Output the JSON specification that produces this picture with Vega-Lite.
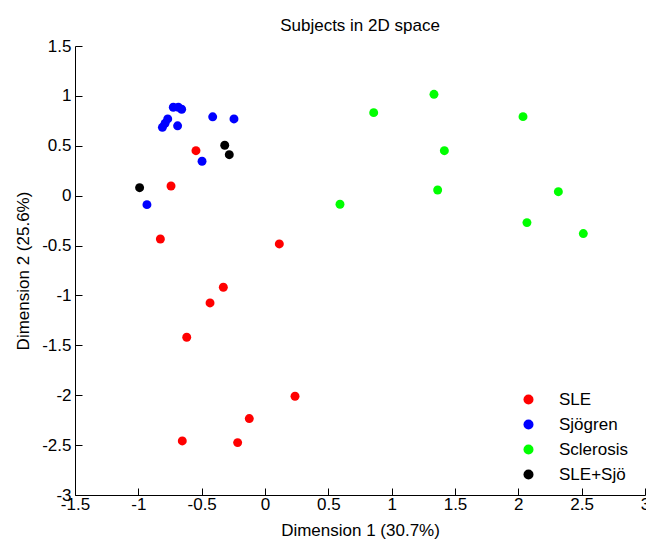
{
  "$schema": "https://vega.github.io/schema/vega-lite/v6.json",
  "autosize": "none",
  "padding": {"left": 75, "top": 46, "right": 1, "bottom": 46},
  "width": 570,
  "height": 449,
  "config": {
    "font": "Liberation Sans",
    "view": {"stroke": null},
    "axis": {
      "grid": false,
      "domainColor": "#000000",
      "tickColor": "#000000",
      "labelColor": "#000000",
      "titleColor": "#000000",
      "labelFontSize": 17,
      "titleFontSize": 17,
      "titleFontWeight": "normal",
      "tickSize": -7,
      "labelFont": "Liberation Sans",
      "titleFont": "Liberation Sans"
    }
  },
  "title": {
    "text": "Subjects in 2D space",
    "fontSize": 17,
    "fontWeight": "normal",
    "color": "#000000",
    "offset": 2,
    "font": "Liberation Sans"
  },
  "data": {
    "values": [
      {"x": -0.545, "y": 0.451, "group": "SLE"},
      {"x": -0.742, "y": 0.097, "group": "SLE"},
      {"x": -0.826, "y": -0.434, "group": "SLE"},
      {"x": 0.113, "y": -0.484, "group": "SLE"},
      {"x": -0.329, "y": -0.918, "group": "SLE"},
      {"x": -0.434, "y": -1.075, "group": "SLE"},
      {"x": -0.618, "y": -1.419, "group": "SLE"},
      {"x": 0.237, "y": -2.01, "group": "SLE"},
      {"x": -0.124, "y": -2.234, "group": "SLE"},
      {"x": -0.216, "y": -2.475, "group": "SLE"},
      {"x": -0.653, "y": -2.458, "group": "SLE"},
      {"x": -0.724, "y": 0.886, "group": "Sjögren"},
      {"x": -0.684, "y": 0.886, "group": "Sjögren"},
      {"x": -0.658, "y": 0.866, "group": "Sjögren"},
      {"x": -0.768, "y": 0.769, "group": "Sjögren"},
      {"x": -0.789, "y": 0.725, "group": "Sjögren"},
      {"x": -0.81, "y": 0.685, "group": "Sjögren"},
      {"x": -0.69, "y": 0.7, "group": "Sjögren"},
      {"x": -0.413, "y": 0.79, "group": "Sjögren"},
      {"x": -0.245, "y": 0.769, "group": "Sjögren"},
      {"x": -0.497, "y": 0.345, "group": "Sjögren"},
      {"x": -0.932, "y": -0.09, "group": "Sjögren"},
      {"x": 1.334, "y": 1.016, "group": "Sclerosis"},
      {"x": 0.858, "y": 0.832, "group": "Sclerosis"},
      {"x": 2.037, "y": 0.792, "group": "Sclerosis"},
      {"x": 1.416, "y": 0.451, "group": "Sclerosis"},
      {"x": 1.363, "y": 0.057, "group": "Sclerosis"},
      {"x": 0.592, "y": -0.086, "group": "Sclerosis"},
      {"x": 2.316, "y": 0.04, "group": "Sclerosis"},
      {"x": 2.068, "y": -0.27, "group": "Sclerosis"},
      {"x": 2.513, "y": -0.38, "group": "Sclerosis"},
      {"x": -0.99, "y": 0.08, "group": "SLE+Sjö"},
      {"x": -0.318, "y": 0.505, "group": "SLE+Sjö"},
      {"x": -0.282, "y": 0.411, "group": "SLE+Sjö"}
    ]
  },
  "mark": {"type": "point", "filled": true, "opacity": 1, "size": 80},
  "encoding": {
    "x": {
      "field": "x",
      "type": "quantitative",
      "title": "Dimension 1 (30.7%)",
      "scale": {"domain": [-1.5, 3], "nice": false, "zero": false},
      "axis": {"values": [-1.5, -1, -0.5, 0, 0.5, 1, 1.5, 2, 2.5, 3], "labelExpr": "'' + datum.value", "labelPadding": 8, "titlePadding": 10, "labelFlush": false}
    },
    "y": {
      "field": "y",
      "type": "quantitative",
      "title": "Dimension 2 (25.6%)",
      "scale": {"domain": [-3, 1.5], "nice": false, "zero": false},
      "axis": {"values": [-3, -2.5, -2, -1.5, -1, -0.5, 0, 0.5, 1, 1.5], "labelExpr": "'' + datum.value", "labelPadding": 11, "titlePadding": 9, "labelFlush": false}
    },
    "color": {
      "field": "group",
      "type": "nominal",
      "scale": {"domain": ["SLE", "Sjögren", "Sclerosis", "SLE+Sjö"], "range": ["#ff0000", "#0000ff", "#00ff00", "#000000"]},
      "legend": {
        "title": null,
        "orient": "none",
        "legendX": 445,
        "legendY": 345,
        "padding": 0,
        "symbolType": "circle",
        "symbolSize": 100,
        "symbolStrokeWidth": 0,
        "labelFontSize": 17,
        "labelColor": "#000000",
        "labelOffset": 22,
        "rowPadding": 7,
        "labelFont": "Liberation Sans"
      }
    }
  }
}
